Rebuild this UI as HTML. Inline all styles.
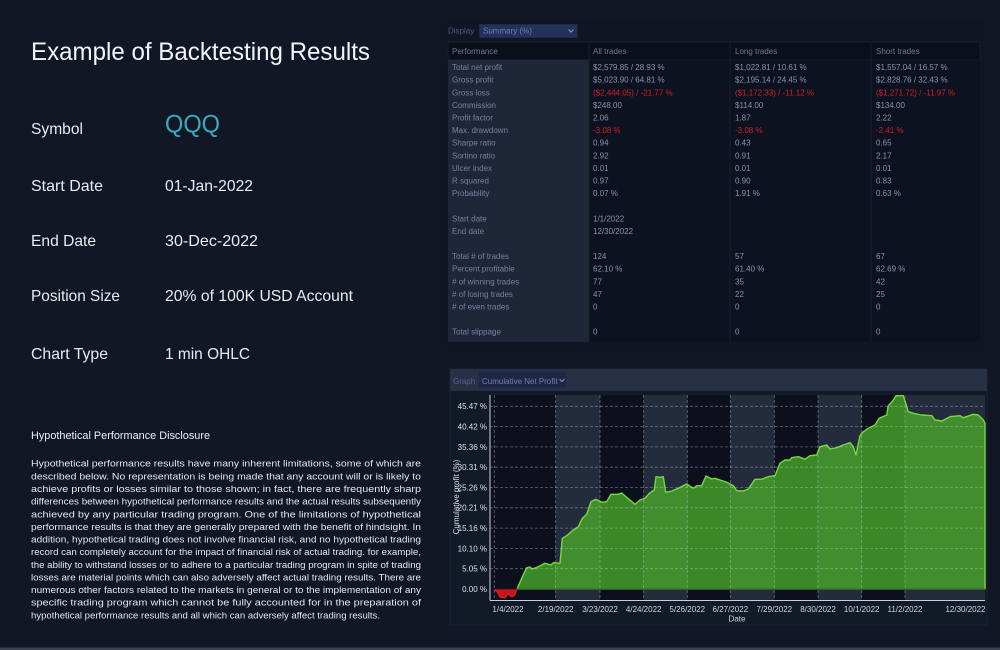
<!DOCTYPE html>
<html><head><meta charset="utf-8"><style>
html,body{margin:0;padding:0;background:#111725;}
svg{display:block;}
text{font-family:"Liberation Sans",sans-serif;}
</style></head><body>
<svg width="1000" height="650" viewBox="0 0 1000 650" xmlns="http://www.w3.org/2000/svg">
<rect x="0" y="0" width="1000" height="650" fill="#111725"/>
<rect x="0" y="647.5" width="1000" height="2.5" fill="#3a4150"/>

<!-- LEFT TEXT -->
<text x="31" y="60" font-size="25" fill="#f2f4f7" textLength="339" lengthAdjust="spacingAndGlyphs">Example of Backtesting Results</text>
<g font-size="16" fill="#e9ebef">
<text x="31" y="134" textLength="52" lengthAdjust="spacingAndGlyphs">Symbol</text>
<text x="31" y="191" textLength="72" lengthAdjust="spacingAndGlyphs">Start Date</text>
<text x="31" y="246" textLength="65" lengthAdjust="spacingAndGlyphs">End Date</text>
<text x="31" y="301" textLength="89" lengthAdjust="spacingAndGlyphs">Position Size</text>
<text x="31" y="359" textLength="77" lengthAdjust="spacingAndGlyphs">Chart Type</text>
<text x="165" y="191" textLength="88" lengthAdjust="spacingAndGlyphs">01-Jan-2022</text>
<text x="165" y="246" textLength="93" lengthAdjust="spacingAndGlyphs">30-Dec-2022</text>
<text x="165" y="301" textLength="188" lengthAdjust="spacingAndGlyphs">20% of 100K USD Account</text>
<text x="165" y="359" textLength="85" lengthAdjust="spacingAndGlyphs">1 min OHLC</text>
</g>
<text x="165" y="132.5" font-size="25" fill="#3aaabd" textLength="55" lengthAdjust="spacingAndGlyphs">QQQ</text>

<text x="31" y="439" font-size="11" fill="#eef0f3" textLength="179" lengthAdjust="spacingAndGlyphs">Hypothetical Performance Disclosure</text>
<g font-size="9.6" fill="#e4e7ec">
<text x="31" y="466.7" textLength="390" lengthAdjust="spacingAndGlyphs">Hypothetical performance results have many inherent limitations, some of which are</text>
<text x="31" y="479.3" textLength="390" lengthAdjust="spacingAndGlyphs">described below. No representation is being made that any account will or is likely to</text>
<text x="31" y="492.0" textLength="390" lengthAdjust="spacingAndGlyphs">achieve profits or losses similar to those shown; in fact, there are frequently sharp</text>
<text x="31" y="504.6" textLength="390" lengthAdjust="spacingAndGlyphs">differences between hypothetical performance results and the actual results subsequently</text>
<text x="31" y="517.3" textLength="390" lengthAdjust="spacingAndGlyphs">achieved by any particular trading program. One of the limitations of hypothetical</text>
<text x="31" y="529.9" textLength="390" lengthAdjust="spacingAndGlyphs">performance results is that they are generally prepared with the benefit of hindsight. In</text>
<text x="31" y="542.5" textLength="390" lengthAdjust="spacingAndGlyphs">addition, hypothetical trading does not involve financial risk, and no hypothetical trading</text>
<text x="31" y="555.2" textLength="390" lengthAdjust="spacingAndGlyphs">record can completely account for the impact of financial risk of actual trading. for example,</text>
<text x="31" y="567.8" textLength="390" lengthAdjust="spacingAndGlyphs">the ability to withstand losses or to adhere to a particular trading program in spite of trading</text>
<text x="31" y="580.5" textLength="390" lengthAdjust="spacingAndGlyphs">losses are material points which can also adversely affect actual trading results. There are</text>
<text x="31" y="593.1" textLength="390" lengthAdjust="spacingAndGlyphs">numerous other factors related to the markets in general or to the implementation of any</text>
<text x="31" y="605.7" textLength="390" lengthAdjust="spacingAndGlyphs">specific trading program which cannot be fully accounted for in the preparation of</text>
<text x="31" y="618.4" textLength="349" lengthAdjust="spacingAndGlyphs">hypothetical performance results and all which can adversely affect trading results.</text>
</g>

<!-- TABLE -->
<rect x="446" y="20" width="538" height="326" fill="#101623"/>
<text x="448" y="33.5" font-size="8" fill="#4f5b80">Display</text>
<rect x="479.3" y="24.3" width="98" height="13.4" fill="#22325a"/>
<text x="483" y="33.6" font-size="8" fill="#6e80b8">Summary (%)</text>
<path d="M568.5 29.5 L571 32 L573.5 29.5" stroke="#7d8fc4" stroke-width="1.2" fill="none"/>

<rect x="448" y="42" width="532" height="18" fill="#0b0f1a" stroke="#1b2232" stroke-width="0.8"/>
<rect x="448" y="60" width="532" height="282" fill="#0d1220"/>
<rect x="448" y="60" width="141" height="282" fill="#1f2637"/>
<g stroke="#1a2131" stroke-width="0.8">
<line x1="589" y1="42" x2="589" y2="342"/>
<line x1="730" y1="42" x2="730" y2="342"/>
<line x1="871" y1="42" x2="871" y2="342"/>
</g>
<g font-size="8" fill="#6f7a9e">
<text x="452" y="54">Performance</text>
<text x="593" y="54">All trades</text>
<text x="735" y="54">Long trades</text>
<text x="876" y="54">Short trades</text>
</g>
<g font-size="8" fill="#7781a5">
<text x="452" y="70.1">Total net profit</text>
<text x="452" y="82.7">Gross profit</text>
<text x="452" y="95.3">Gross loss</text>
<text x="452" y="107.9">Commission</text>
<text x="452" y="120.5">Profit factor</text>
<text x="452" y="133.1">Max. drawdown</text>
<text x="452" y="145.7">Sharpe ratio</text>
<text x="452" y="158.3">Sortino ratio</text>
<text x="452" y="170.9">Ulcer index</text>
<text x="452" y="183.5">R squared</text>
<text x="452" y="196.1">Probability</text>
<text x="452" y="221.3">Start date</text>
<text x="452" y="233.9">End date</text>
<text x="452" y="259.1">Total # of trades</text>
<text x="452" y="271.7">Percent profitable</text>
<text x="452" y="284.3">&#35; of winning trades</text>
<text x="452" y="296.9">&#35; of losing trades</text>
<text x="452" y="309.5">&#35; of even trades</text>
<text x="452" y="334.7">Total slippage</text>
</g>
<g font-size="8" fill="#8a93ae">
<text x="593" y="70.1">$2,579.85 / 28.93 %</text>
<text x="593" y="82.7">$5,023.90 / 64.81 %</text>
<text x="593" y="107.9">$248.00</text>
<text x="593" y="120.5">2.06</text>
<text x="593" y="145.7">0.94</text>
<text x="593" y="158.3">2.92</text>
<text x="593" y="170.9">0.01</text>
<text x="593" y="183.5">0.97</text>
<text x="593" y="196.1">0.07 %</text>
<text x="593" y="221.3">1/1/2022</text>
<text x="593" y="233.9">12/30/2022</text>
<text x="593" y="259.1">124</text>
<text x="593" y="271.7">62.10 %</text>
<text x="593" y="284.3">77</text>
<text x="593" y="296.9">47</text>
<text x="593" y="309.5">0</text>
<text x="593" y="334.7">0</text>

<text x="735" y="70.1">$1,022.81 / 10.61 %</text>
<text x="735" y="82.7">$2,195.14 / 24.45 %</text>
<text x="735" y="107.9">$114.00</text>
<text x="735" y="120.5">1.87</text>
<text x="735" y="145.7">0.43</text>
<text x="735" y="158.3">0.91</text>
<text x="735" y="170.9">0.01</text>
<text x="735" y="183.5">0.90</text>
<text x="735" y="196.1">1.91 %</text>
<text x="735" y="259.1">57</text>
<text x="735" y="271.7">61.40 %</text>
<text x="735" y="284.3">35</text>
<text x="735" y="296.9">22</text>
<text x="735" y="309.5">0</text>
<text x="735" y="334.7">0</text>

<text x="876" y="70.1">$1,557.04 / 16.57 %</text>
<text x="876" y="82.7">$2,828.76 / 32.43 %</text>
<text x="876" y="107.9">$134.00</text>
<text x="876" y="120.5">2.22</text>
<text x="876" y="145.7">0.65</text>
<text x="876" y="158.3">2.17</text>
<text x="876" y="170.9">0.01</text>
<text x="876" y="183.5">0.83</text>
<text x="876" y="196.1">0.63 %</text>
<text x="876" y="259.1">67</text>
<text x="876" y="271.7">62.69 %</text>
<text x="876" y="284.3">42</text>
<text x="876" y="296.9">25</text>
<text x="876" y="309.5">0</text>
<text x="876" y="334.7">0</text>
</g>
<g font-size="8" fill="#d41f26">
<text x="593" y="95.3">($2,444.05) / -21.77 %</text>
<text x="735" y="95.3">($1,172.33) / -11.12 %</text>
<text x="876" y="95.3">($1,271.72) / -11.97 %</text>
<text x="593" y="133.1">-3.08 %</text>
<text x="735" y="133.1">-3.08 %</text>
<text x="876" y="133.1">-2.41 %</text>
</g>

<!-- CHART PANEL -->
<rect x="450" y="369" width="537" height="256" fill="#121927" stroke="#1c2435" stroke-width="0.8"/>
<rect x="450" y="369" width="537" height="22" fill="#283045"/>
<text x="453" y="384" font-size="8" fill="#52618f">Graph</text>
<rect x="479" y="372" width="87" height="16" fill="#1e2846"/>
<text x="482" y="384" font-size="8" fill="#6f7eae">Cumulative Net Profit</text>
<path d="M559.5 379 L562 381.5 L564.5 379" stroke="#7f8fc2" stroke-width="1.2" fill="none"/>

<!-- plot bands -->
<rect x="490" y="395" width="495" height="205" fill="#0b101c"/>
<g fill="#242b3d">
<rect x="555.7" y="395" width="44.3" height="205"/>
<rect x="643.7" y="395" width="43.6" height="205"/>
<rect x="730.3" y="395" width="44" height="205"/>
<rect x="818" y="395" width="43.7" height="205"/>
<rect x="905" y="395" width="80" height="205"/>
</g>

<!-- red area -->
<path d="M494 589 L497 592 L500 597 L505 598 L508 594 L512 597 L515 595 L517 589 Z" fill="#c8141e" stroke="#e0202a" stroke-width="1"/>

<!-- green area -->
<path d="M517 589 L521.7 578.3 L526.7 567.7 L530 567 L532.3 569 L538.3 566.7 L545 563.3 L551 565 L553.3 562.7 L560 563.3 L562.3 538.3 L566.7 535.7 L573.3 530 L578.3 526.7 L582.3 518.3 L586.7 514.3 L591 501.7 L595.7 499.3 L601.7 502.3 L606.7 501.7 L611 494.3 L618.3 494.3 L621.7 493 L627.7 498.3 L635 504.3 L640 500 L645 498.3 L649.3 493.3 L654.3 490 L656 476.7 L660 477.3 L663.3 476.7 L665.7 492.3 L671.7 491 L678.3 488.3 L686.7 484 L693.3 488.3 L696.7 485.7 L701.7 485.7 L706 476 L711.7 479 L715 478.3 L726.7 482.3 L733.3 485.7 L736.7 490.7 L743.3 491 L748.3 489 L755 479.3 L761.7 479.3 L768.3 476.7 L775 475.7 L780 463.3 L785 460 L790 460 L791.7 457.7 L798.3 456.7 L805 459.3 L810 455.7 L816.7 455 L820 446.7 L826.7 445 L830 449 L836.7 447.7 L843.3 445 L850 442.7 L853.3 446.7 L856 455 L860 435.7 L863.3 431.7 L868.3 428.3 L875 425 L879.3 418.3 L886.7 415 L888.3 405.7 L892.7 401 L896 395.7 L903.3 395.7 L908.3 411.7 L913.3 413.3 L921.7 415 L931.7 415.7 L935 420 L941.7 421 L950 416.7 L960 415.7 L963.3 417.7 L973.3 414.3 L978.3 415 L983.3 420 L985 423.3 L985 589 Z" fill="#4aaa2c" fill-opacity="0.78" stroke="#76d83e" stroke-width="1.4" stroke-linejoin="round"/>

<!-- grid -->
<g stroke="#c8cdd8" stroke-opacity="0.45" stroke-width="0.8" stroke-dasharray="3,2">
<line x1="490" y1="406.3" x2="985" y2="406.3"/>
<line x1="490" y1="426.6" x2="985" y2="426.6"/>
<line x1="490" y1="446.9" x2="985" y2="446.9"/>
<line x1="490" y1="467.2" x2="985" y2="467.2"/>
<line x1="490" y1="487.5" x2="985" y2="487.5"/>
<line x1="490" y1="507.8" x2="985" y2="507.8"/>
<line x1="490" y1="528.1" x2="985" y2="528.1"/>
<line x1="490" y1="548.4" x2="985" y2="548.4"/>
<line x1="490" y1="568.7" x2="985" y2="568.7"/>
<line x1="494.3" y1="395" x2="494.3" y2="600"/>
<line x1="555.7" y1="395" x2="555.7" y2="600"/>
<line x1="600" y1="395" x2="600" y2="600"/>
<line x1="643.7" y1="395" x2="643.7" y2="600"/>
<line x1="687.3" y1="395" x2="687.3" y2="600"/>
<line x1="730.3" y1="395" x2="730.3" y2="600"/>
<line x1="774.3" y1="395" x2="774.3" y2="600"/>
<line x1="818" y1="395" x2="818" y2="600"/>
<line x1="861.7" y1="395" x2="861.7" y2="600"/>
<line x1="905" y1="395" x2="905" y2="600"/>
</g>
<line x1="490" y1="589" x2="985" y2="589" stroke="#0a0e18" stroke-width="0.8"/>
<!-- axes -->
<g stroke="#c9ced8" stroke-width="1">
<line x1="490" y1="395" x2="490" y2="600.5"/>
<line x1="490" y1="600.5" x2="985" y2="600.5"/>
</g>

<!-- y labels -->
<g font-size="8" fill="#dde1e8" text-anchor="end">
<text x="487" y="409.2">45.47 %</text>
<text x="487" y="429.5">40.42 %</text>
<text x="487" y="449.8">35.36 %</text>
<text x="487" y="470.1">30.31 %</text>
<text x="487" y="490.4">25.26 %</text>
<text x="487" y="510.7">20.21 %</text>
<text x="487" y="531.0">15.16 %</text>
<text x="487" y="551.3">10.10 %</text>
<text x="487" y="571.6">5.05 %</text>
<text x="487" y="591.9">0.00 %</text>
</g>
<text transform="translate(459,497) rotate(-90)" font-size="8" fill="#dde1e8" text-anchor="middle">Cumulative profit (%)</text>

<!-- x labels -->
<g font-size="8" fill="#d3d8e0" text-anchor="middle">
<text x="508" y="612">1/4/2022</text>
<text x="555.7" y="612">2/19/2022</text>
<text x="600" y="612">3/23/2022</text>
<text x="643.7" y="612">4/24/2022</text>
<text x="687.3" y="612">5/26/2022</text>
<text x="730.3" y="612">6/27/2022</text>
<text x="774.3" y="612">7/29/2022</text>
<text x="818" y="612">8/30/2022</text>
<text x="861.7" y="612">10/1/2022</text>
<text x="905" y="612">11/2/2022</text>
<text x="965.5" y="612">12/30/2022</text>
<text x="737" y="621.5">Date</text>
</g>
</svg>
</body></html>
